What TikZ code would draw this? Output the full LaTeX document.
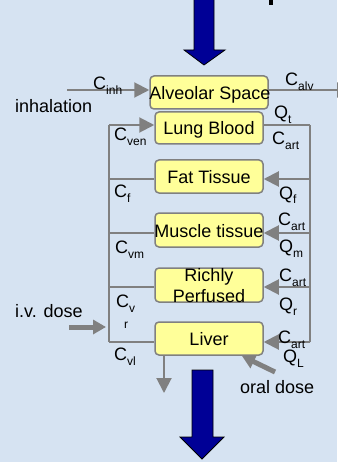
\documentclass[tikz,border=0pt]{standalone}
\usepackage{fontspec}
\setmainfont{Liberation Sans}
\usetikzlibrary{arrows.meta}
\definecolor{bgblue}{RGB}{214,227,242}
\definecolor{boxyellow}{RGB}{255,255,153}
\definecolor{linegray}{RGB}{128,128,128}
\definecolor{navyfill}{RGB}{0,0,150}
\newcommand{\lsub}[1]{\raisebox{-5pt}{\fontsize{12}{12}\selectfont #1}}
\tikzset{
  compbox/.style={draw=linegray, fill=boxyellow, line width=1.5pt, rounded corners=4pt, minimum width=108pt, minimum height=33pt, inner sep=0pt},
  boxtext/.style={inner sep=0pt, anchor=base, font=\fontsize{18}{21}\selectfont},
  lbl/.style={inner sep=0pt, anchor=base west, font=\fontsize{18}{20}\selectfont},
  flow/.style={draw=linegray, line width=2pt},
  flowarrow/.style={flow, -{Triangle[length=15pt,width=15pt]}, color=linegray},
  dosearrow/.style={draw=linegray, line width=5pt, -{Triangle[length=13pt,width=14pt]}, color=linegray},
  bigarrow/.style={fill=navyfill, draw=black, line width=0.8pt}
}
\begin{document}
\begin{tikzpicture}[x=1pt,y=-1pt]
\useasboundingbox (0,0) rectangle (337,462);
\fill[bgblue] (0,0) rectangle (337,462);
% fragment at top edge
\fill[black] (269,0) rectangle (273,5);
% big blue arrows
\path[bigarrow] (194,-2) -- (214,-2) -- (214,50) -- (225,50) -- (204,65) -- (184,50) -- (194,50) -- cycle;
\path[bigarrow] (192,370) -- (213,370) -- (213,437) -- (224,437) -- (202,459) -- (180,437) -- (192,437) -- cycle;
% boxes
\node[compbox, minimum width=118pt] (alv) at (209,92.5) {};
\node[compbox, minimum height=32pt] (lung) at (209,128) {};
\node[compbox] (fat) at (209,176.5) {};
\node[compbox, minimum height=34pt] (musc) at (209,230) {};
\node[compbox, minimum height=34pt] (rich) at (209,285) {};
\node[compbox] (liv) at (209,338.5) {};
% box texts
\node[boxtext] (talv) at (210,100) {\makebox[0pt]{Alveolar Space}};
\node[boxtext] (tlung) at (209,135) {Lung Blood};
\node[boxtext] (tfat) at (209,183) {Fat Tissue};
\node[boxtext] (tmusc) at (209,237) {\makebox[0pt]{Muscle tissue}};
\node[boxtext] (trich1) at (209,281) {Richly};
\node[boxtext] (trich2) at (209,302) {Perfused};
\node[boxtext] (tliv) at (209,345) {Liver};
% bus coordinates
\coordinate (Ltop) at (109,125);
\coordinate (Lfat) at (109,179);
\coordinate (Lmus) at (109,233);
\coordinate (Lric) at (109,287);
\coordinate (Lbot) at (109,342);
\coordinate (Rtop) at (310,125);
\coordinate (Rfat) at (310,179);
\coordinate (Rmus) at (310,233);
\coordinate (Rric) at (310,287);
\coordinate (Rbot) at (310,342);
\coordinate (inhStart) at (67,90);
\coordinate (alvEnd) at (352,90);
\coordinate (ivStart) at (69,327);
\coordinate (ivEnd) at (106,327);
\coordinate (outEnd) at (164,393);
\coordinate (oralStart) at (275,372);
\coordinate (oralEnd) at (242,356);
% bus lines
\draw[flow] (Ltop) -- (Lbot);
\draw[flow] (Rtop) -- (Rbot);
% connectors
\draw[flowarrow] (inhStart) -- (inhStart -| alv.west);
\draw[flowarrow] (alv.east |- alvEnd) -- (alvEnd);
\draw[flowarrow] (Ltop) -- (Ltop -| lung.west);
\draw[flow] (lung.east |- Rtop) -- (Rtop);
\draw[flow] (Lfat) -- (Lfat -| fat.west);
\draw[flowarrow] (Rfat) -- (Rfat -| fat.east);
\draw[flow] (Lmus) -- (Lmus -| musc.west);
\draw[flowarrow] (Rmus) -- (Rmus -| musc.east);
\draw[flow] (Lric) -- (Lric -| rich.west);
\draw[flowarrow] (Rric) -- (Rric -| rich.east);
\draw[flow] (Lbot) -- (Lbot -| liv.west);
\draw[flowarrow] (Rbot) -- (Rbot -| liv.east);
\draw[flowarrow] (liv.south -| outEnd) -- (outEnd);
\draw[dosearrow] (ivStart) -- (ivEnd);
\draw[dosearrow] (oralStart) -- (oralEnd);
% labels
\node[lbl] (cinh) at (93,90) {C\lsub{inh}};
\node[lbl] (calv) at (285,86) {C\lsub{alv}};
\node[lbl] (inhal) at (15,113) {inhalation};
\node[lbl] (qt) at (274,119) {Q\lsub{t}};
\node[lbl] (cven) at (114,141) {C\lsub{ven}};
\node[lbl] (cart1) at (272,145) {C\lsub{art}};
\node[lbl] (cf) at (114,197) {C\lsub{f}};
\node[lbl] (qf) at (279,199) {Q\lsub{f}};
\node[lbl] (cart2) at (278,225) {C\lsub{art}};
\node[lbl] (qm) at (279,252) {Q\lsub{m}};
\node[lbl] (cvm) at (115,253) {C\lsub{vm}};
\node[lbl] (cart3) at (279,281) {C\lsub{art}};
\node[lbl] (qr) at (279,310) {Q\lsub{r}};
\node[lbl] (cv) at (116,307) {C\lsub{v}};
\node[lbl, font=\fontsize{12}{12}\selectfont] (rsub) at (124,328) {r};
\node[lbl] (ivdose) at (15,317) {i.v. dose};
\node[lbl] (cart4) at (278,343) {C\lsub{art}};
\node[lbl] (ql) at (283,362) {Q\lsub{L}};
\node[lbl] (cvl) at (114,360) {C\lsub{vl}};
\node[lbl] (oral) at (240,393) {oral dose};
\end{tikzpicture}
\end{document}
